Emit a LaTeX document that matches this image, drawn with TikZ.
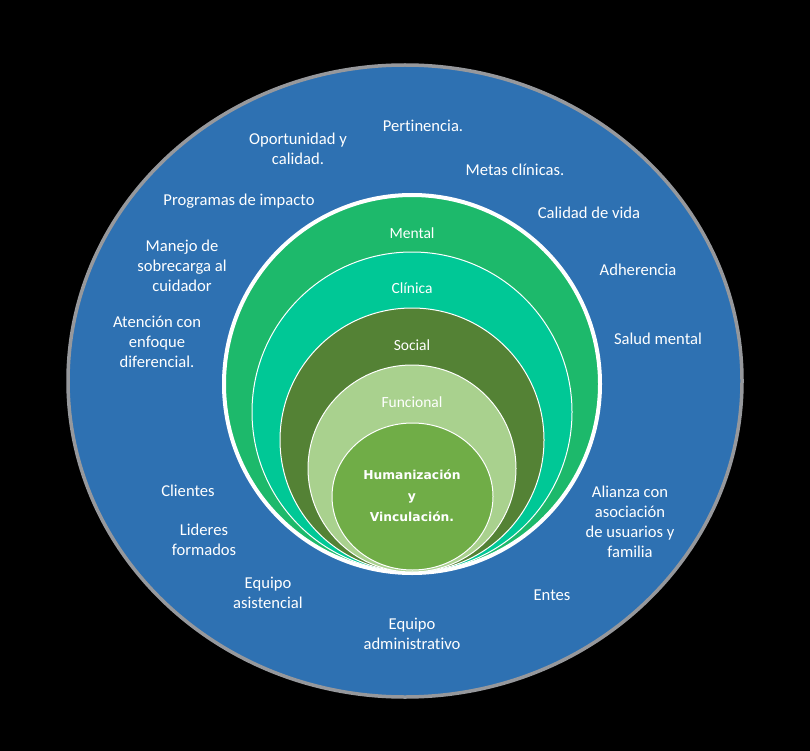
\documentclass[tikz,border=0pt]{standalone}
\usepackage{fontspec}
\setmainfont{Carlito}[Ligatures=NoCommon]
\newfontfamily\corefont{DejaVu Sans}
\definecolor{bgblue}{RGB}{46,113,178}
\definecolor{rimgray}{RGB}{150,152,156}
\definecolor{cmental}{RGB}{29,185,107}
\definecolor{cclinica}{RGB}{0,200,150}
\definecolor{csocial}{RGB}{84,130,53}
\definecolor{cfuncional}{RGB}{169,209,142}
\definecolor{chuman}{RGB}{112,173,71}
\begin{document}
\begin{tikzpicture}[x=1pt,y=-1pt,
  lbl/.style={text=white, align=center, inner sep=0pt, font=\fontsize{16.6}{20}\selectfont},
  ringlbl/.style={text=white, inner sep=0pt, font=\fontsize{15.5}{18}\selectfont},
  corelbl/.style={text=white, align=center, inner sep=0pt, font=\corefont\bfseries\fontsize{12.3}{21}\selectfont},
  ringline/.style={draw=white, line width=1pt}]
\useasboundingbox (0,0) rectangle (810,751);
\fill[black] (0,0) rectangle (810,751);
% outer blue ellipse
\filldraw[fill=bgblue, draw=rimgray, line width=3.5pt] (405,381) ellipse [x radius=337pt, y radius=316pt];
% nested rings
\filldraw[fill=cmental, draw=white, line width=4pt] (412,384) ellipse [x radius=188pt, y radius=189pt];
\filldraw[fill=cclinica, ringline] (412,412) ellipse [x radius=160pt, y radius=160pt];
\filldraw[fill=csocial, ringline] (412,440) ellipse [x radius=132pt, y radius=132pt];
\filldraw[fill=cfuncional, ringline] (412,468.5) ellipse [x radius=104pt, y radius=103.5pt];
\filldraw[fill=chuman, ringline] (412.5,496.5) ellipse [x radius=80.5pt, y radius=73.5pt];
% ring labels
\node[ringlbl] (mental) at (412,233) {Mental};
\node[ringlbl] (clinica) at (412,288) {Clínica};
\node[ringlbl] (social) at (412,345) {Social};
\node[ringlbl] (funcional) at (412,402) {Funcional};
\node[corelbl] (core) at (412,496) {Humanización\\y\\Vinculación.};
% outer labels
\node[lbl] (oport) at (298,149) {Oportunidad y\\calidad.};
\node[lbl] (pert) at (423,126) {Pertinencia.};
\node[lbl] (metas) at (515,170) {Metas clínicas.};
\node[lbl] (prog) at (239,201) {Programas de impacto};
\node[lbl] (calidad) at (589,213) {Calidad de vida};
\node[lbl] (manejo) at (182,266) {Manejo de\\sobrecarga al\\cuidador};
\node[lbl] (adher) at (638,270) {Adherencia};
\node[lbl] (atencion) at (157,342) {Atención con\\enfoque\\diferencial.};
\node[lbl] (salud) at (658,339) {Salud mental};
\node[lbl] (clientes) at (188,491) {Clientes};
\node[lbl] (lideres) at (204,540) {Lideres\\formados};
\node[lbl] (eqasis) at (268,593) {Equipo\\asistencial};
\node[lbl] (eqadm) at (412,634) {Equipo\\administrativo};
\node[lbl] (entes) at (552,595) {Entes};
\node[lbl] (alianza) at (630,522) {Alianza con\\asociación\\de usuarios y\\familia};
\end{tikzpicture}
\end{document}
